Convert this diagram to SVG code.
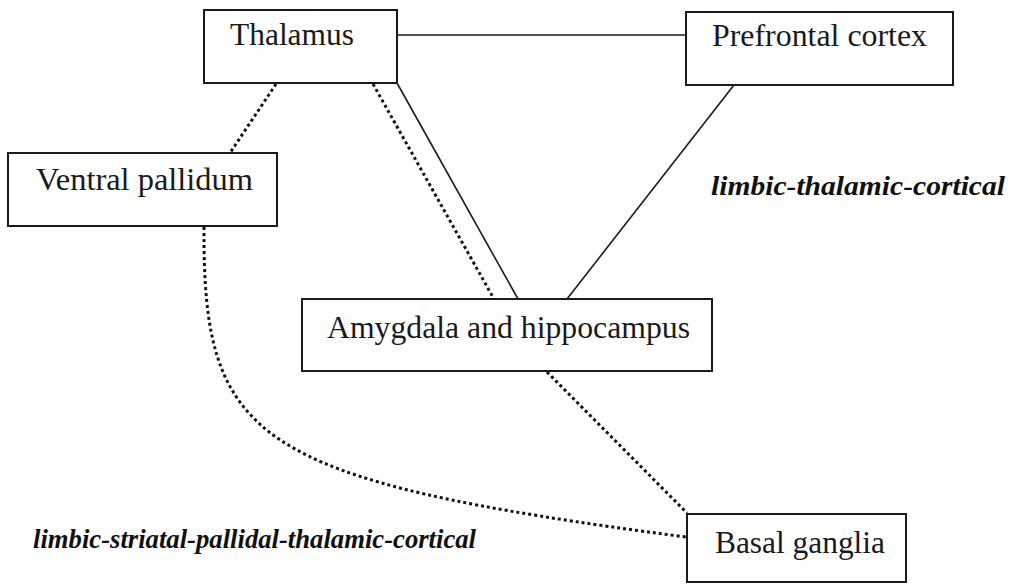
<svg xmlns="http://www.w3.org/2000/svg" width="1018" height="585" viewBox="0 0 1018 585">
<style>
.box{fill:#fff;stroke:#1a1a1a;stroke-width:2}
.lbl{font-family:"Liberation Serif","Times New Roman",serif;font-size:32px;fill:#1a1a1a}
.path{font-family:"Liberation Serif","Times New Roman",serif;font-size:27px;font-weight:bold;font-style:italic;fill:#111}
.solid{fill:none;stroke:#1a1a1a;stroke-width:1.6}
.dot{fill:none;stroke:#111;stroke-width:3;stroke-dasharray:3 3}
</style>
<rect width="1018" height="585" fill="#fff"/>
<g id="connectors">
<line class="solid" x1="397" y1="35" x2="686" y2="35"/>
<line class="solid" x1="397" y1="83" x2="518" y2="299"/>
<line class="solid" x1="734" y1="85" x2="567" y2="299"/>
<line class="dot" x1="276" y1="84" x2="230" y2="153"/>
<line class="dot" x1="373" y1="84" x2="494" y2="299"/>
<line class="dot" x1="547" y1="372" x2="687" y2="513"/>
<path class="dot" d="M204,227 C203,440 250,480 686,537"/>
</g>
<g id="thalamus">
<rect class="box" x="204" y="10" width="193" height="73"/>
<text class="lbl" x="230" y="45" textLength="124" lengthAdjust="spacingAndGlyphs">Thalamus</text>
</g>
<g id="prefrontal">
<rect class="box" x="686" y="12" width="267" height="73"/>
<text class="lbl" x="712" y="46" textLength="215" lengthAdjust="spacingAndGlyphs">Prefrontal cortex</text>
</g>
<g id="ventral-pallidum">
<rect class="box" x="8" y="153" width="269" height="73"/>
<text class="lbl" x="36" y="190" textLength="217" lengthAdjust="spacingAndGlyphs">Ventral pallidum</text>
</g>
<g id="amygdala">
<rect class="box" x="302" y="299" width="410" height="72"/>
<text class="lbl" x="327" y="338" textLength="363" lengthAdjust="spacingAndGlyphs">Amygdala and hippocampus</text>
</g>
<g id="basal-ganglia">
<rect class="box" x="687" y="514" width="219" height="68"/>
<text class="lbl" x="715" y="553" textLength="170" lengthAdjust="spacingAndGlyphs">Basal ganglia</text>
</g>
<g id="labels">
<text class="path" x="711" y="195" textLength="294" lengthAdjust="spacingAndGlyphs">limbic-thalamic-cortical</text>
<text class="path" x="33" y="548" textLength="443" lengthAdjust="spacingAndGlyphs">limbic-striatal-pallidal-thalamic-cortical</text>
</g>
</svg>
